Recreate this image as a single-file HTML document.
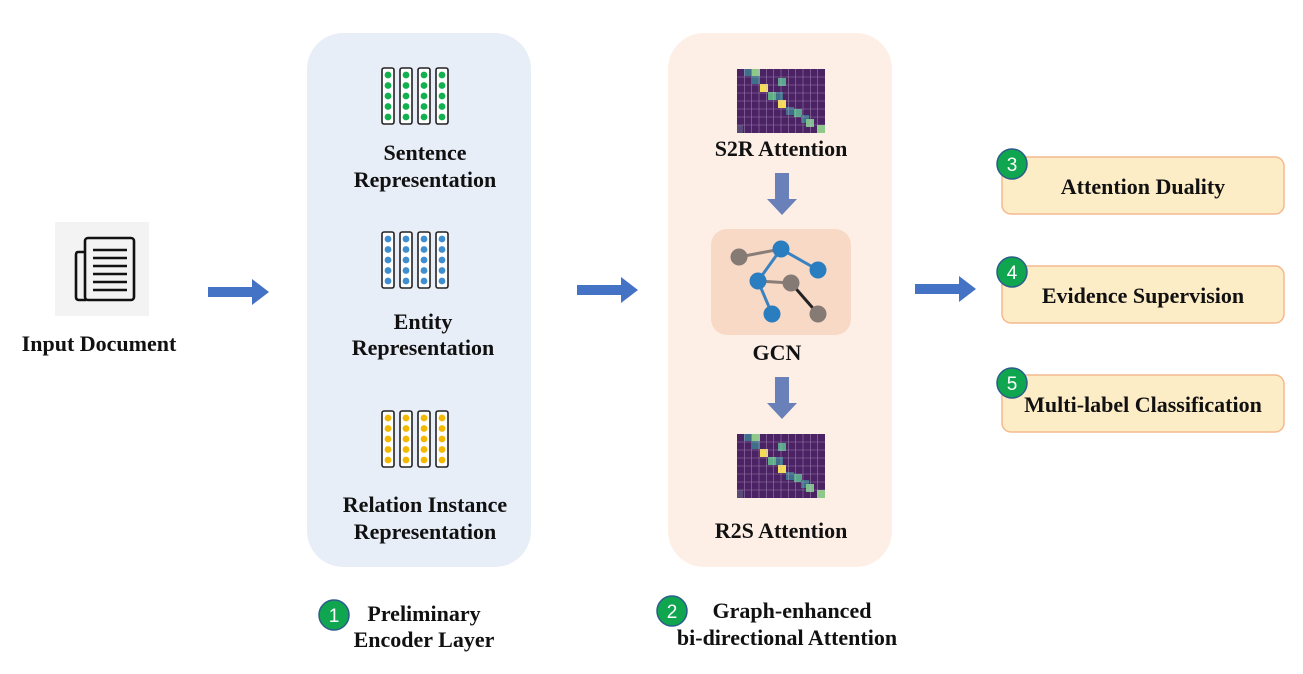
<!DOCTYPE html>
<html><head><meta charset="utf-8"><style>
html,body{margin:0;padding:0;background:#fff;}
svg{display:block;}
text{font-family:"Liberation Serif",serif;font-weight:bold;fill:#111;}
.b{font-family:"Liberation Sans",sans-serif;font-weight:normal;fill:#fff;font-size:19px;}
</style></head><body>
<svg width="1303" height="674" viewBox="0 0 1303 674" xmlns="http://www.w3.org/2000/svg">
<defs>
<g id="hm">
<rect x="0" y="0" width="88" height="64" fill="#4b2264"/>
<rect x="7" y="0" width="8" height="7" fill="#3f6f8a"/>
<rect x="15" y="0" width="8" height="7" fill="#8ec98a"/>
<rect x="15" y="7" width="8" height="8" fill="#3f6f8a"/>
<rect x="41" y="9" width="8" height="8" fill="#5aa58b"/>
<rect x="23" y="15" width="8" height="8" fill="#f5dd55"/>
<rect x="31" y="23" width="8" height="8" fill="#5fae86"/>
<rect x="39" y="23" width="7" height="8" fill="#3f6f8a"/>
<rect x="41" y="31" width="8" height="8" fill="#f5dd55"/>
<rect x="49" y="38" width="8" height="8" fill="#3f6f8a"/>
<rect x="57" y="40" width="8" height="8" fill="#5aa58b"/>
<rect x="64" y="46" width="8" height="8" fill="#3f6f8a"/>
<rect x="69" y="50" width="8" height="8" fill="#7cc08a"/>
<rect x="80" y="56" width="8" height="8" fill="#8ec98a"/>
<rect x="0" y="56" width="6" height="8" fill="#5a4a7a"/>
<g stroke="#c9b6d6" stroke-width="0.6" opacity="0.6">
<line x1="7.3" y1="0" x2="7.3" y2="64"/><line x1="14.7" y1="0" x2="14.7" y2="64"/><line x1="22" y1="0" x2="22" y2="64"/><line x1="29.3" y1="0" x2="29.3" y2="64"/><line x1="36.7" y1="0" x2="36.7" y2="64"/><line x1="44" y1="0" x2="44" y2="64"/><line x1="51.3" y1="0" x2="51.3" y2="64"/><line x1="58.7" y1="0" x2="58.7" y2="64"/><line x1="66" y1="0" x2="66" y2="64"/><line x1="73.3" y1="0" x2="73.3" y2="64"/><line x1="80.7" y1="0" x2="80.7" y2="64"/>
<line x1="0" y1="8" x2="88" y2="8"/><line x1="0" y1="16" x2="88" y2="16"/><line x1="0" y1="24" x2="88" y2="24"/><line x1="0" y1="32" x2="88" y2="32"/><line x1="0" y1="40" x2="88" y2="40"/><line x1="0" y1="48" x2="88" y2="48"/><line x1="0" y1="56" x2="88" y2="56"/>
</g>
</g>
<g id="col">
<rect x="0" y="0" width="12" height="56" rx="2" fill="#fff" stroke="#222" stroke-width="1.6"/>
<circle cx="6" cy="7" r="3.4"/><circle cx="6" cy="17.5" r="3.4"/><circle cx="6" cy="28" r="3.4"/><circle cx="6" cy="38.5" r="3.4"/><circle cx="6" cy="49" r="3.4"/>
</g>
<g id="vec">
<use href="#col" x="0"/><use href="#col" x="18"/><use href="#col" x="36"/><use href="#col" x="54"/>
</g>
</defs>

<rect x="55" y="222" width="94" height="94" fill="#f3f3f3"/>
<path d="M85 252 H78 Q76 252 76 255 V297 Q76 300 79 300 H86" fill="none" stroke="#111" stroke-width="2.6"/>
<rect x="85" y="238" width="49" height="62" rx="3" fill="none" stroke="#111" stroke-width="2.6"/>
<g stroke="#111" stroke-width="2.6"><line x1="93" y1="250" x2="127" y2="250"/><line x1="93" y1="258" x2="127" y2="258"/><line x1="93" y1="266" x2="127" y2="266"/><line x1="93" y1="274" x2="127" y2="274"/><line x1="93" y1="282" x2="127" y2="282"/><line x1="93" y1="290" x2="127" y2="290"/></g>
<text x="99" y="351" font-size="22" text-anchor="middle">Input Document</text>

<g fill="#4472c4">
<path d="M208 287 H252 V279 L269 292 L252 305 V297 H208Z"/>
<path d="M577 285 H621 V277 L638 290 L621 303 V295 H577Z"/>
<path d="M915 284 H959 V276 L976 289 L959 302 V294 H915Z"/>
</g>

<rect x="307" y="33" width="224" height="534" rx="36" fill="#e8eef7"/>
<use href="#vec" x="382" y="68" fill="#12b04f"/>
<text x="425" y="160" font-size="22" text-anchor="middle">Sentence</text>
<text x="425" y="187" font-size="22" text-anchor="middle">Representation</text>
<use href="#vec" x="382" y="232" fill="#3f8ed0"/>
<text x="423" y="329" font-size="22" text-anchor="middle">Entity</text>
<text x="423" y="355" font-size="22" text-anchor="middle">Representation</text>
<use href="#vec" x="382" y="411" fill="#f5b800"/>
<text x="425" y="512" font-size="22" text-anchor="middle">Relation Instance</text>
<text x="425" y="539" font-size="22" text-anchor="middle">Representation</text>

<rect x="668" y="33" width="224" height="534" rx="36" fill="#fdefe6"/>
<use href="#hm" x="737" y="69"/>
<text x="781" y="156" font-size="22" text-anchor="middle">S2R Attention</text>
<path d="M775 173 H789 V199 H797 L782 215 L767 199 H775Z" fill="#6a80b8"/>
<rect x="711" y="229" width="140" height="106" rx="16" fill="#f8d9c6"/>
<g stroke-width="3">
<line x1="739" y1="257" x2="781" y2="249" stroke="#8a7d78"/>
<line x1="781" y1="249" x2="818" y2="270" stroke="#3a82c0"/>
<line x1="781" y1="249" x2="758" y2="281" stroke="#3a82c0"/>
<line x1="758" y1="281" x2="791" y2="283" stroke="#8a7d78"/>
<line x1="758" y1="281" x2="772" y2="314" stroke="#3a82c0"/>
<line x1="791" y1="283" x2="818" y2="314" stroke="#222"/>
</g>
<circle cx="739" cy="257" r="8.5" fill="#857a74"/>
<circle cx="781" cy="249" r="8.5" fill="#2a7ec0"/>
<circle cx="818" cy="270" r="8.5" fill="#2a7ec0"/>
<circle cx="758" cy="281" r="8.5" fill="#2a7ec0"/>
<circle cx="791" cy="283" r="8.5" fill="#857a74"/>
<circle cx="772" cy="314" r="8.5" fill="#2a7ec0"/>
<circle cx="818" cy="314" r="8.5" fill="#857a74"/>
<text x="777" y="360" font-size="22" text-anchor="middle">GCN</text>
<path d="M775 377 H789 V403 H797 L782 419 L767 403 H775Z" fill="#6a80b8"/>
<use href="#hm" x="737" y="434"/>
<text x="781" y="538" font-size="22" text-anchor="middle">R2S Attention</text>

<g fill="#fdedc7" stroke="#f4b98e" stroke-width="1.5">
<rect x="1002" y="157" width="282" height="57" rx="9"/>
<rect x="1002" y="266" width="282" height="57" rx="9"/>
<rect x="1002" y="375" width="282" height="57" rx="9"/>
</g>
<text x="1143" y="194" font-size="22" text-anchor="middle">Attention Duality</text>
<text x="1143" y="303" font-size="22" text-anchor="middle">Evidence Supervision</text>
<text x="1143" y="412" font-size="22" text-anchor="middle">Multi-label Classification</text>
<g fill="#10a650" stroke="#2b5d8a" stroke-width="1.5">
<circle cx="1012" cy="164" r="15"/><circle cx="1012" cy="272" r="15"/><circle cx="1012" cy="383" r="15"/>
<circle cx="334" cy="615" r="15"/><circle cx="672" cy="611" r="15"/>
</g>
<text class="b" x="1012" y="171" text-anchor="middle">3</text>
<text class="b" x="1012" y="279" text-anchor="middle">4</text>
<text class="b" x="1012" y="390" text-anchor="middle">5</text>
<text class="b" x="334" y="622" text-anchor="middle">1</text>
<text class="b" x="672" y="618" text-anchor="middle">2</text>

<text x="424" y="621" font-size="22" text-anchor="middle">Preliminary</text>
<text x="424" y="647" font-size="22" text-anchor="middle">Encoder Layer</text>
<text x="792" y="618" font-size="22" text-anchor="middle">Graph-enhanced</text>
<text x="787" y="645" font-size="22" text-anchor="middle">bi-directional Attention</text>
</svg>
</body></html>
